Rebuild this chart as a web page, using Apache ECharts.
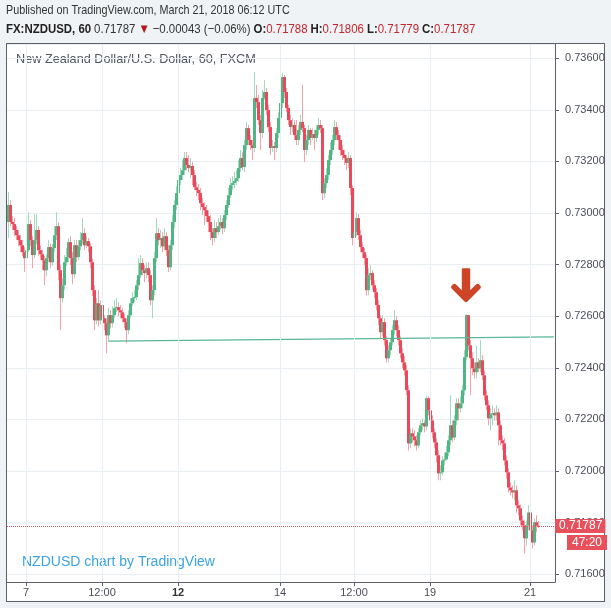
<!DOCTYPE html>
<html><head><meta charset="utf-8">
<script src="https://cdn.jsdelivr.net/npm/echarts@6/dist/echarts.min.js"></script>
<style>
html,body{margin:0;padding:0;background:#f0f3f6;}
#frame{position:absolute;left:6px;top:43px;width:597px;height:557px;border:1px solid #5d606b;background:#fff;}
#chart{position:absolute;left:0;top:0;width:611px;height:608px;}
</style></head>
<body>
<div id="frame"></div>
<div id="chart"></div>
<script>
// ---- data (hourly NZDUSD candles) ----
const open = [
0.72965,0.73031,0.72965,0.72957,0.72934,0.72914,0.72895,0.72875,0.72848,0.72825,
0.72856,0.72957,0.72895,0.72837,0.72895,0.72934,0.72856,0.72840,0.72817,0.72778,
0.72825,0.72868,0.72809,0.72864,0.72914,0.72949,0.72778,0.72670,0.72720,0.72809,
0.72829,0.72887,0.72825,0.72763,0.72875,0.72829,0.72871,0.72895,0.72922,0.72875,
0.72891,0.72871,0.72809,0.72701,0.72584,0.72650,0.72584,0.72643,0.72592,0.72573,
0.72526,0.72604,0.72573,0.72604,0.72631,0.72635,0.72623,0.72615,0.72592,0.72577,
0.72546,0.72604,0.72650,0.72670,0.72674,0.72720,0.72759,0.72806,0.72778,0.72767,
0.72786,0.72759,0.72662,0.72701,0.72825,0.72922,0.72895,0.72903,0.72871,0.72910,
0.72856,0.72790,0.72875,0.72965,0.73031,0.73077,0.73128,0.73147,0.73166,0.73213,
0.73186,0.73174,0.73182,0.73147,0.73100,0.73089,0.73077,0.73038,0.73023,0.73011,
0.72988,0.72965,0.72926,0.72903,0.72941,0.72926,0.72949,0.72965,0.72941,0.72992,
0.73031,0.73069,0.73108,0.73116,0.73124,0.73135,0.73174,0.73213,0.73178,0.73263,
0.73329,0.73283,0.73263,0.73252,0.73446,0.73430,0.73360,0.73310,0.73446,0.73469,
0.73399,0.73333,0.73252,0.73259,0.73252,0.73310,0.73368,0.73426,0.73527,0.73469,
0.73407,0.73360,0.73333,0.73341,0.73302,0.73283,0.73322,0.73353,0.73329,0.73244,
0.73283,0.73322,0.73291,0.73306,0.73291,0.73322,0.73341,0.73329,0.73077,0.73116,
0.73147,0.73205,0.73244,0.73283,0.73333,0.73302,0.73283,0.73244,0.73225,0.73213,
0.73194,0.73213,0.73097,0.72903,0.72926,0.72980,0.72914,0.72868,0.72848,0.72825,
0.72701,0.72759,0.72767,0.72720,0.72693,0.72643,0.72592,0.72538,0.72577,0.72507,
0.72437,0.72468,0.72499,0.72546,0.72584,0.72546,0.72507,0.72456,0.72421,0.72390,
0.72313,0.72107,0.72146,0.72134,0.72119,0.72099,0.72150,0.72177,0.72185,0.72173,
0.72282,0.72235,0.72196,0.72150,0.72111,0.72061,0.71991,0.71995,0.72041,0.72045,
0.72072,0.72119,0.72177,0.72130,0.72196,0.72262,0.72243,0.72262,0.72313,0.72441,
0.72604,0.72487,0.72437,0.72398,0.72383,0.72421,0.72398,0.72429,0.72371,0.72293,
0.72255,0.72204,0.72220,0.72224,0.72216,0.72227,0.72177,0.72119,0.72107,0.72041,
0.71995,0.71936,0.71925,0.71917,0.71925,0.71867,0.71855,0.71808,0.71789,0.71739,
0.71789,0.71839,0.71770,0.71723,0.71801,0.71788];
const close = [
0.73031,0.72965,0.72957,0.72934,0.72914,0.72895,0.72875,0.72848,0.72825,0.72856,
0.72957,0.72895,0.72837,0.72895,0.72934,0.72856,0.72840,0.72817,0.72778,0.72825,
0.72868,0.72809,0.72864,0.72914,0.72949,0.72778,0.72670,0.72720,0.72809,0.72829,
0.72887,0.72825,0.72763,0.72875,0.72829,0.72871,0.72895,0.72922,0.72875,0.72891,
0.72871,0.72809,0.72701,0.72584,0.72650,0.72584,0.72643,0.72592,0.72573,0.72526,
0.72604,0.72573,0.72604,0.72631,0.72635,0.72623,0.72615,0.72592,0.72577,0.72546,
0.72604,0.72650,0.72670,0.72674,0.72720,0.72759,0.72806,0.72778,0.72767,0.72786,
0.72759,0.72662,0.72701,0.72825,0.72922,0.72895,0.72903,0.72871,0.72910,0.72856,
0.72790,0.72875,0.72965,0.73031,0.73077,0.73128,0.73147,0.73166,0.73213,0.73186,
0.73174,0.73182,0.73147,0.73100,0.73089,0.73077,0.73038,0.73023,0.73011,0.72988,
0.72965,0.72926,0.72903,0.72941,0.72926,0.72949,0.72965,0.72941,0.72992,0.73031,
0.73069,0.73108,0.73116,0.73124,0.73135,0.73174,0.73213,0.73178,0.73263,0.73329,
0.73283,0.73263,0.73252,0.73446,0.73430,0.73360,0.73310,0.73446,0.73469,0.73399,
0.73333,0.73252,0.73259,0.73252,0.73310,0.73368,0.73426,0.73527,0.73469,0.73407,
0.73360,0.73333,0.73341,0.73302,0.73283,0.73322,0.73353,0.73329,0.73244,0.73283,
0.73322,0.73291,0.73306,0.73291,0.73322,0.73341,0.73329,0.73077,0.73116,0.73147,
0.73205,0.73244,0.73283,0.73333,0.73302,0.73283,0.73244,0.73225,0.73213,0.73194,
0.73213,0.73097,0.72903,0.72926,0.72980,0.72914,0.72868,0.72848,0.72825,0.72701,
0.72759,0.72767,0.72720,0.72693,0.72643,0.72592,0.72538,0.72577,0.72507,0.72437,
0.72468,0.72499,0.72546,0.72584,0.72546,0.72507,0.72456,0.72421,0.72390,0.72313,
0.72107,0.72146,0.72134,0.72119,0.72099,0.72150,0.72177,0.72185,0.72173,0.72282,
0.72235,0.72196,0.72150,0.72111,0.72061,0.71991,0.71995,0.72041,0.72045,0.72072,
0.72119,0.72177,0.72130,0.72196,0.72262,0.72243,0.72262,0.72313,0.72441,0.72604,
0.72487,0.72437,0.72398,0.72383,0.72421,0.72398,0.72429,0.72371,0.72293,0.72255,
0.72204,0.72220,0.72224,0.72216,0.72227,0.72177,0.72119,0.72107,0.72041,0.71995,
0.71936,0.71925,0.71917,0.71925,0.71867,0.71855,0.71808,0.71789,0.71739,0.71789,
0.71839,0.71770,0.71723,0.71801,0.71788,0.71787];
const high = [
0.73081,0.73050,0.72988,0.72980,0.72949,0.72934,0.72914,0.72895,0.72868,0.72883,
0.73003,0.72972,0.72910,0.72996,0.72996,0.72949,0.72875,0.72856,0.72833,0.72840,
0.72895,0.72883,0.72879,0.72949,0.73003,0.72965,0.72798,0.72747,0.72837,0.72864,
0.72903,0.72910,0.72848,0.72895,0.72895,0.72895,0.72926,0.72980,0.72941,0.72910,
0.72903,0.72883,0.72825,0.72720,0.72670,0.72701,0.72662,0.72654,0.72604,0.72592,
0.72631,0.72623,0.72639,0.72662,0.72670,0.72654,0.72643,0.72631,0.72608,0.72592,
0.72623,0.72670,0.72693,0.72701,0.72740,0.72825,0.72837,0.72825,0.72798,0.72809,
0.72809,0.72778,0.72720,0.72848,0.72980,0.72941,0.72934,0.72926,0.72941,0.72926,
0.72875,0.72895,0.72992,0.73050,0.73104,0.73159,0.73174,0.73205,0.73236,0.73236,
0.73225,0.73213,0.73197,0.73166,0.73120,0.73112,0.73097,0.73058,0.73042,0.73031,
0.73011,0.72992,0.72941,0.72972,0.72965,0.72980,0.72992,0.72980,0.73011,0.73050,
0.73097,0.73135,0.73143,0.73159,0.73166,0.73205,0.73244,0.73236,0.73283,0.73353,
0.73341,0.73302,0.73283,0.73547,0.73496,0.73457,0.73380,0.73477,0.73516,0.73485,
0.73419,0.73353,0.73283,0.73275,0.73329,0.73391,0.73446,0.73543,0.73535,0.73485,
0.73419,0.73380,0.73368,0.73360,0.73360,0.73341,0.73380,0.73496,0.73341,0.73302,
0.73341,0.73329,0.73329,0.73322,0.73341,0.73368,0.73360,0.73341,0.73135,0.73174,
0.73225,0.73275,0.73302,0.73360,0.73353,0.73322,0.73302,0.73263,0.73244,0.73225,
0.73236,0.73225,0.73108,0.72953,0.73003,0.72996,0.72934,0.72887,0.72864,0.72837,
0.72786,0.72798,0.72778,0.72740,0.72709,0.72662,0.72604,0.72604,0.72592,0.72522,
0.72487,0.72515,0.72565,0.72623,0.72600,0.72565,0.72522,0.72476,0.72445,0.72410,
0.72332,0.72165,0.72165,0.72158,0.72138,0.72165,0.72196,0.72204,0.72196,0.72293,
0.72289,0.72255,0.72216,0.72165,0.72127,0.72080,0.72022,0.72057,0.72072,0.72099,
0.72138,0.72293,0.72196,0.72216,0.72282,0.72282,0.72289,0.72332,0.72468,0.72608,
0.72604,0.72507,0.72460,0.72421,0.72487,0.72437,0.72507,0.72449,0.72390,0.72313,
0.72274,0.72243,0.72255,0.72243,0.72255,0.72243,0.72196,0.72138,0.72127,0.72061,
0.72010,0.71956,0.71944,0.71964,0.71944,0.71886,0.71870,0.71828,0.71808,0.71808,
0.71867,0.71855,0.71789,0.71816,0.71828,0.71806];
const low = [
0.72903,0.72949,0.72934,0.72910,0.72895,0.72871,0.72848,0.72833,0.72771,0.72809,
0.72848,0.72871,0.72786,0.72825,0.72879,0.72833,0.72817,0.72778,0.72720,0.72755,
0.72809,0.72786,0.72794,0.72848,0.72895,0.72740,0.72546,0.72654,0.72701,0.72794,
0.72809,0.72798,0.72724,0.72747,0.72809,0.72817,0.72856,0.72879,0.72856,0.72864,
0.72848,0.72786,0.72678,0.72546,0.72569,0.72561,0.72569,0.72577,0.72546,0.72456,
0.72507,0.72553,0.72557,0.72592,0.72615,0.72600,0.72592,0.72577,0.72553,0.72495,
0.72530,0.72592,0.72639,0.72654,0.72662,0.72701,0.72747,0.72759,0.72732,0.72747,
0.72732,0.72643,0.72592,0.72681,0.72809,0.72875,0.72864,0.72848,0.72856,0.72833,
0.72771,0.72778,0.72856,0.72941,0.73011,0.73058,0.73108,0.73128,0.73147,0.73166,
0.73159,0.73135,0.73108,0.73089,0.73066,0.73050,0.73011,0.72992,0.72953,0.72965,
0.72926,0.72895,0.72875,0.72887,0.72903,0.72914,0.72934,0.72918,0.72926,0.72972,
0.73019,0.73058,0.73089,0.73097,0.73108,0.73120,0.73159,0.73166,0.73159,0.73244,
0.73263,0.73244,0.73205,0.73236,0.73407,0.73341,0.73244,0.73291,0.73438,0.73380,
0.73314,0.73225,0.73236,0.73205,0.73236,0.73291,0.73353,0.73407,0.73446,0.73391,
0.73341,0.73302,0.73314,0.73283,0.73263,0.73263,0.73302,0.73314,0.73197,0.73225,
0.73263,0.73263,0.73283,0.73244,0.73275,0.73302,0.73310,0.73050,0.73058,0.73097,
0.73128,0.73186,0.73225,0.73263,0.73283,0.73244,0.73221,0.73205,0.73186,0.73166,
0.73174,0.73069,0.72875,0.72875,0.72910,0.72895,0.72848,0.72825,0.72798,0.72681,
0.72681,0.72740,0.72701,0.72670,0.72623,0.72565,0.72515,0.72522,0.72487,0.72421,
0.72421,0.72449,0.72487,0.72526,0.72522,0.72487,0.72437,0.72398,0.72371,0.72293,
0.72080,0.72088,0.72111,0.72095,0.72080,0.72088,0.72138,0.72158,0.72150,0.72158,
0.72216,0.72177,0.72127,0.72088,0.72033,0.71964,0.71964,0.71983,0.72022,0.72041,
0.72057,0.72099,0.72111,0.72119,0.72177,0.72196,0.72227,0.72243,0.72293,0.72429,
0.72468,0.72293,0.72371,0.72359,0.72359,0.72383,0.72383,0.72352,0.72274,0.72235,
0.72177,0.72158,0.72177,0.72196,0.72196,0.72099,0.72099,0.72080,0.72022,0.71971,
0.71917,0.71905,0.71894,0.71886,0.71839,0.71828,0.71789,0.71770,0.71680,0.71711,
0.71770,0.71746,0.71700,0.71711,0.71762,0.71779];

const slotCount = 274;                       // hourly slots on the x axis (incl. empty right margin)
const tickIndex = [9, 47, 85, 136, 173, 211, 261];
const tickLabels = ['7', '12:00', '12', '14', '12:00', '19', '21'];
const trendX = [50, 273];
const trendY = [0.72503, 0.72520];
const arrowAt = [229, 0.72720];
const lastPrice = 0.71787;
const yMin = 0.715697, yMax = 0.736551;

// ---- build library data ----
const cats = [];
for (let i = 0; i < slotCount; i++) cats.push(String(i));
const candles = [];
for (let i = 0; i < close.length; i++) {
  candles.push([i, open[i], close[i], low[i], high[i]]);
}
const UP = '#4fb684', DOWN = '#e9495a', WUP = '#a3d9bf', WDOWN = '#f4a2aa';
const FONT = "'Liberation Sans', Arial, sans-serif";

const chart = echarts.init(document.getElementById('chart'), null, {renderer: 'canvas'});
const isTick = (idx) => tickIndex.indexOf(idx) >= 0;

chart.setOption({
  backgroundColor: 'transparent',
  animation: false,
  grid: {left: 7, right: 56, top: 44, bottom: 26, containLabel: false},
  xAxis: {
    type: 'category', data: cats, boundaryGap: true,
    axisLine: {show: true, lineStyle: {color: '#5d606b', width: 1}},
    axisTick: {show: true, alignWithLabel: true, interval: isTick, length: 4, lineStyle: {color: '#5d606b'}},
    axisLabel: {
      interval: isTick, margin: 5, fontSize: 11, fontFamily: FONT, color: '#4a4e57',
      formatter: (v) => {
        const k = tickIndex.indexOf(Number(v));
        if (k < 0) return '';
        return k === 2 ? '{b|' + tickLabels[k] + '}' : tickLabels[k];
      },
      rich: {b: {fontWeight: 'bold', fontSize: 11, fontFamily: FONT, color: '#333'}}
    },
    splitLine: {show: false}
  },
  yAxis: {
    type: 'value', position: 'right', scale: true, min: yMin, max: yMax, splitNumber: 10,
    axisLine: {show: true, lineStyle: {color: '#5d606b', width: 1}},
    axisTick: {show: true, length: 4, lineStyle: {color: '#5d606b'}},
    axisLabel: {
      fontSize: 11, fontFamily: FONT, color: '#4a4e57', margin: 10,
      showMinLabel: false, showMaxLabel: false,
      formatter: (v) => v.toFixed(5)
    },
    splitLine: {show: true, lineStyle: {color: '#e9eef3', width: 1}}
  },
  series: [
    { // vertical grid lines (under the candles)
      type: 'line', data: [], z: 1, silent: true,
      markLine: {
        silent: true, symbol: 'none', label: {show: false},
        lineStyle: {color: '#e9eef3', width: 1, type: 'solid'},
        data: tickIndex.map(i => ({xAxis: i}))
      }
    },
    { // candles: pale wick + solid body
      type: 'custom', z: 3, silent: true,
      encode: {x: 0, y: [1, 2, 3, 4]},
      data: candles,
      renderItem: (params, api) => {
        const i = api.value(0);
        const o = api.coord([i, api.value(1)]);
        const c = api.coord([i, api.value(2)]);
        const l = api.coord([i, api.value(3)]);
        const h = api.coord([i, api.value(4)]);
        const up = api.value(2) >= api.value(1);
        const cx = Math.round(o[0]);
        const top = Math.min(o[1], c[1]);
        const bh = Math.max(Math.abs(o[1] - c[1]), 1);
        return {type: 'group', children: [
          {type: 'line', shape: {x1: cx + 0.5, y1: l[1], x2: cx + 0.5, y2: h[1]},
           style: {stroke: up ? WUP : WDOWN, lineWidth: 1}},
          {type: 'rect', shape: {x: cx - 1, y: top, width: 3, height: bh},
           style: {fill: up ? UP : DOWN}}
        ]};
      },
      markLine: {
        silent: true, symbol: 'none', precision: 5,
        lineStyle: {color: '#e8505b', type: 'dotted', width: 1},
        label: {show: true, position: 'end', distance: 0, formatter: () => lastPrice.toFixed(5),
          backgroundColor: '#e8505b', color: '#fff', fontSize: 12, fontFamily: FONT,
          padding: [1, 3, 1, 4]},
        data: [{yAxis: lastPrice}]
      },
      markPoint: {
        silent: true,
        symbol: 'path://M11,1Q11,0 12,0L18,0Q19,0 19,1L19,21L24.5,15.5Q26,14 27.5,15.5L28.5,16.5Q30,18 28.5,19.5L16.4,31.6Q15,33 13.6,31.6L1.5,19.5Q0,18 1.5,16.5L2.5,15.5Q4,14 5.5,15.5L11,21Z',
        symbolSize: [30, 34],
        itemStyle: {color: '#cd4426'},
        label: {show: false},
        data: [{coord: arrowAt}]
      }
    },
    {
      type: 'line', z: 4, silent: true, symbol: 'none',
      data: [[trendX[0], trendY[0]], [trendX[1], trendY[1]]],
      lineStyle: {color: '#5ab795', width: 1.3}
    }
  ],
  graphic: [
    {type: 'text', x: 6, y: 4, scaleX: 0.83, silent: true,
     style: {text: 'Published on TradingView.com, March 21, 2018 06:12 UTC', fill: '#333', font: '13px ' + FONT}},
    {type: 'text', x: 6, y: 23, scaleX: 0.88, silent: true,
     style: {
       text: '{b|FX:NZDUSD, 60} {n|0.71787} {t|▼} {n|\u22120.00043 (\u22120.06%)} {b|O:}{r|0.71788} {b|H:}{r|0.71806} {b|L:}{r|0.71779} {b|C:}{r|0.71787}',
       rich: {
         b: {fontWeight: 'bold', fontSize: 13, fontFamily: FONT, fill: '#222'},
         n: {fontSize: 13, fontFamily: FONT, fill: '#333'},
         t: {fontSize: 13, fontFamily: FONT, fill: '#b3181e'},
         r: {fontSize: 13, fontFamily: FONT, fill: '#c4262e'}
       }
     }},
    {type: 'text', x: 16, y: 53, silent: true,
     style: {text: 'New Zealand Dollar/U.S. Dollar, 60, FXCM', fill: '#50555e', font: '12.7px ' + FONT}},
    {type: 'text', x: 22, y: 555, silent: true,
     style: {text: 'NZDUSD chart by TradingView', fill: '#3ba3e1', font: '14px ' + FONT}}
  ]
});

// countdown box under the last-price label
const p = chart.convertToPixel({gridIndex: 0}, [0, lastPrice]);
chart.setOption({graphic: [{type: 'text', id: 'cd', silent: true, x: 567, y: p[1] + 9,
  style: {text: '47:20', fill: '#fff', font: '12px ' + FONT, backgroundColor: '#e8505b', padding: [2, 5, 1, 5]}}]});
</script>
</body></html>
